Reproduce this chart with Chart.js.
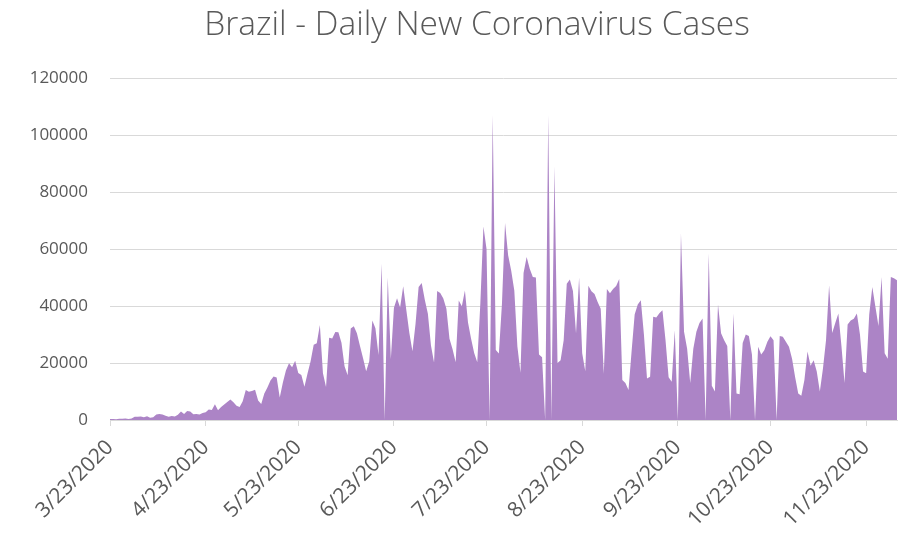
<!DOCTYPE html>
<html>
<head>
<meta charset="utf-8">
<script src="https://cdn.jsdelivr.net/npm/chart.js@4/dist/chart.umd.min.js"></script>
<style>
  html, body { margin: 0; padding: 0; background: #ffffff; }
  #wrap { width: 899px; height: 536px; }
</style>
</head>
<body>
<div id="wrap"><canvas id="c" width="899" height="536"></canvas></div>
<script>
// Daily new cases, starting 3/23/2020 (one value per day)
const casesMar = [350, 320, 300, 430, 430, 490, 350, 500, 1100];
const casesApr = [1100, 1200, 1000, 1300, 800, 1000, 1900, 2100, 1900, 1500, 1100, 1400, 1200, 1800, 3000, 2100, 3200, 3000, 2000, 2100, 1900, 2500, 2700, 3700, 3500, 5500, 3400, 4600, 5400, 6300];
const casesMay = [7200, 6200, 5000, 4600, 6600, 10500, 9900, 10200, 10600, 6800, 5600, 9300, 11400, 13900, 15300, 14900, 7900, 13100, 17400, 19900, 18500, 20800, 16500, 15800, 11700, 16300, 20600, 26400, 26900, 33300, 16400];
const casesJun = [11600, 28900, 28600, 30900, 30800, 27100, 18900, 15700, 32100, 32900, 30400, 26000, 21700, 17100, 20600, 34900, 32200, 22800, 54800, 0, 50000, 21400, 39400, 42700, 39500, 46900, 38700, 30500, 24100, 33800];
const casesJul = [46700, 48100, 42200, 37300, 26100, 20200, 45300, 44600, 42600, 39000, 28500, 24800, 20300, 41900, 39900, 45400, 34200, 28500, 23500, 20300, 41000, 67900, 60000, 0, 107000, 24600, 23300, 40800, 69100, 57800, 52400];
const casesAug = [45400, 25800, 16600, 51600, 57200, 53100, 50200, 50000, 23000, 22000, 0, 107000, 0, 89000, 20000, 21000, 28000, 47800, 49300, 45300, 30400, 50000, 23400, 17100, 47100, 45200, 44200, 41400, 39000, 16200, 46000];
const casesSep = [44500, 46000, 47000, 49500, 14000, 13000, 10500, 24000, 37000, 40500, 42000, 30000, 14600, 15200, 36200, 36000, 37500, 38500, 28000, 15000, 13400, 31500, 0, 65400, 31000, 25000, 13000, 25000, 31000, 34000];
const casesOct = [35600, 0, 58400, 12000, 10000, 40500, 30400, 28000, 26000, 0, 37400, 9300, 9000, 27000, 30000, 29500, 23000, 0, 25700, 23000, 24500, 27500, 29400, 28000, 0, 29500, 29200, 27500, 25700, 21500, 15000];
const casesNov = [9300, 8500, 14000, 24000, 19000, 21000, 17000, 10000, 18000, 28000, 47300, 30500, 34000, 37400, 26000, 13000, 33500, 34900, 35500, 37400, 30000, 17000, 16400, 37000, 46700, 39700, 33000, 50200, 23400, 21500];
const casesDec = [50200, 49700, 49000];

// x-axis tick positions (days since 3/23/2020) and their labels
const tickDays = [0, 31, 61, 92, 122, 153, 184, 214, 245];
const tickLabels = ['3/23/2020', '4/23/2020', '5/23/2020', '6/23/2020', '7/23/2020', '8/23/2020', '9/23/2020', '10/23/2020', '11/23/2020'];
const yTicks = [0, 20000, 40000, 60000, 80000, 100000, 120000];
const chartTitle = 'Brazil - Daily New Coronavirus Cases';

const dailyCases = [].concat(casesMar, casesApr, casesMay, casesJun, casesJul, casesAug, casesSep, casesOct, casesNov, casesDec);
const points = dailyCases.map((v, i) => ({ x: i, y: v }));

const textColor = '#595959';
const gridColor = '#d9d9d9';

// Title drawn at the same spot as the reference (centred a little left of the plot centre)
const titlePlugin = {
  id: 'placedTitle',
  afterDraw(chart) {
    const ctx = chart.ctx;
    ctx.save();
    ctx.fillStyle = textColor;
    ctx.font = '300 33.5px "Open Sans"';
    ctx.textAlign = 'center';
    ctx.textBaseline = 'middle';
    ctx.fillText(chartTitle, 477, 25);
    ctx.restore();
  }
};

new Chart(document.getElementById('c'), {
  type: 'line',
  data: {
    datasets: [{
      label: 'Daily New Cases',
      data: points,
      fill: 'origin',
      backgroundColor: '#ac84c6',
      borderColor: '#ac84c6',
      borderWidth: 0,
      pointRadius: 0,
      tension: 0
    }]
  },
  plugins: [titlePlugin],
  options: {
    responsive: false,
    animation: false,
    layout: { padding: { left: 0, right: 2, top: 78, bottom: 0 } },
    plugins: {
      legend: { display: false },
      tooltip: { enabled: false },
      title: { display: false }
    },
    scales: {
      x: {
        type: 'linear',
        min: 0,
        max: dailyCases.length - 1,
        afterBuildTicks: (scale) => { scale.ticks = tickDays.map(v => ({ value: v })); },
        afterFit: (scale) => { scale.height = 116; },
        grid: { display: true, drawOnChartArea: false, drawTicks: true, tickLength: 6, color: gridColor },
        border: { display: true, color: gridColor, width: 1 },
        ticks: {
          autoSkip: false,
          maxRotation: 45,
          minRotation: 45,
          padding: 9,
          color: textColor,
          font: { family: 'Open Sans', size: 21 },
          callback: (value) => { const k = tickDays.indexOf(value); return k >= 0 ? tickLabels[k] : ''; }
        }
      },
      y: {
        min: 0,
        max: 120000,
        afterBuildTicks: (scale) => { scale.ticks = yTicks.map(v => ({ value: v })); },
        afterFit: (scale) => { scale.width = 110; },
        grid: { color: gridColor, drawTicks: false },
        border: { display: false },
        ticks: {
          padding: 22,
          color: textColor,
          font: { family: 'Open Sans', size: 17 },
          callback: (value) => String(value)
        }
      }
    }
  }
});
</script>
</body>
</html>
